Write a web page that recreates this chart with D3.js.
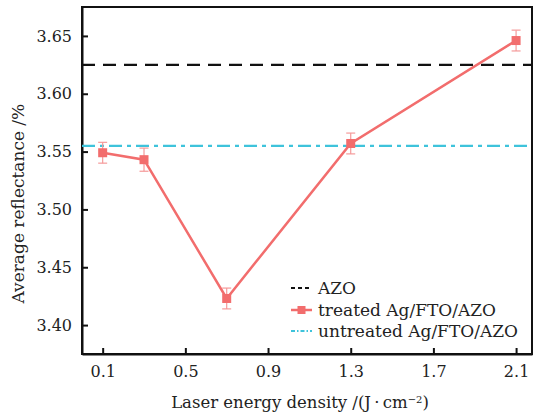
<!DOCTYPE html>
<html>
<head>
<meta charset="utf-8">
<script src="https://cdn.jsdelivr.net/npm/d3@7"></script>
<style>
body { margin: 0; background: #fff; }
svg text { font-family: "DejaVu Serif", serif; fill: #222; }
</style>
</head>
<body>
<div class="chart-wrapper"></div>
<script>
const energy = [0.1, 0.3, 0.7, 1.3, 2.1]
const reflectance = [3.549, 3.543, 3.423, 3.557, 3.646]
const errors = [0.009, 0.010, 0.009, 0.009, 0.009]
const azoLevel = 3.625
const untreatedLevel = 3.555
const xTicks = [0.1, 0.5, 0.9, 1.3, 1.7, 2.1]
const yTicks = [3.40, 3.45, 3.50, 3.55, 3.60, 3.65]
const legendLabels = ["AZO", "treated Ag/FTO/AZO", "untreated Ag/FTO/AZO"]

const width = 535, height = 413
const margin = {top: 7, right: 3, bottom: 59, left: 82}

const red = "#f26d6d", redLight = "#f59a9a", cyan = "#3ec3db"

let svg = d3.select(".chart-wrapper").append("svg")
  .attr("width", width)
  .attr("height", height)

let x = d3.scaleLinear().domain([0, 2.177]).range([margin.left, width - margin.right])
let y = d3.scaleLinear().domain([3.375, 3.675]).range([height - margin.bottom, margin.top])

// frame
svg.append("rect")
  .attr("x", margin.left).attr("y", margin.top)
  .attr("width", width - margin.right - margin.left)
  .attr("height", height - margin.bottom - margin.top)
  .attr("fill", "none").attr("stroke", "#111").attr("stroke-width", 2)

let xaxis = svg.append("g")
  .attr("transform", "translate(0," + (height - margin.bottom) + ")")
  .call(d3.axisBottom(x).tickValues(xTicks).tickFormat(d3.format(".1f"))
    .tickSizeInner(-6).tickSizeOuter(0).tickPadding(12))
xaxis.select(".domain").attr("stroke-width", 2).attr("stroke", "#111")
xaxis.selectAll(".tick line").attr("stroke-width", 2).attr("stroke", "#111")
xaxis.selectAll("text").attr("font-size", 16).style("font-family", "DejaVu Serif")

let yaxis = svg.append("g")
  .attr("transform", "translate(" + margin.left + ",0)")
  .call(d3.axisLeft(y).tickValues(yTicks).tickFormat(d3.format(".2f"))
    .tickSizeInner(-6).tickSizeOuter(0).tickPadding(10))
yaxis.select(".domain").attr("stroke-width", 2).attr("stroke", "#111")
yaxis.selectAll(".tick line").attr("stroke-width", 2).attr("stroke", "#111")
yaxis.selectAll("text").attr("font-size", 16).style("font-family", "DejaVu Serif")

// reference lines
svg.append("line")
  .attr("x1", x(0)).attr("x2", x(2.177))
  .attr("y1", y(azoLevel)).attr("y2", y(azoLevel))
  .attr("stroke", "#111").attr("stroke-width", 2.2).attr("stroke-dasharray", "13,8")

svg.append("line")
  .attr("x1", x(0)).attr("x2", x(2.177))
  .attr("y1", y(untreatedLevel)).attr("y2", y(untreatedLevel))
  .attr("stroke", cyan).attr("stroke-width", 2.2).attr("stroke-dasharray", "13,5,4,5")

const data = energy.map((e, i) => ({e: e, v: reflectance[i], err: errors[i]}))

// error bars
let eb = svg.append("g").selectAll("g").data(data).join("g")
eb.append("line")
  .attr("x1", d => x(d.e)).attr("x2", d => x(d.e))
  .attr("y1", d => y(d.v - d.err)).attr("y2", d => y(d.v + d.err))
  .attr("stroke", redLight).attr("stroke-width", 1.2)
eb.selectAll(".cap").data(d => [d.v - d.err, d.v + d.err].map(v => ({e: d.e, v: v})))
  .join("line")
  .attr("x1", d => x(d.e) - 4.5).attr("x2", d => x(d.e) + 4.5)
  .attr("y1", d => y(d.v)).attr("y2", d => y(d.v))
  .attr("stroke", redLight).attr("stroke-width", 1.2)

let valueline = d3.line().x(d => x(d.e)).y(d => y(d.v))

svg.append("path")
  .datum(data)
  .attr("d", valueline)
  .attr("fill", "none").attr("stroke", red).attr("stroke-width", 2.5)

svg.append("g").selectAll("rect").data(data).join("rect")
  .attr("x", d => x(d.e) - 4.5).attr("y", d => y(d.v) - 4.5)
  .attr("width", 9).attr("height", 9)
  .attr("fill", red)

// legend
let legend = svg.append("g").attr("transform", "translate(291,0)")
const rowY = [288, 310, 331]
legend.append("line").attr("x1", 0).attr("x2", 21).attr("y1", rowY[0]).attr("y2", rowY[0])
  .attr("stroke", "#111").attr("stroke-width", 2).attr("stroke-dasharray", "4,3")
legend.append("line").attr("x1", 0).attr("x2", 21).attr("y1", rowY[1]).attr("y2", rowY[1])
  .attr("stroke", red).attr("stroke-width", 2.5)
legend.append("rect").attr("x", 6.5).attr("y", rowY[1] - 4).attr("width", 8).attr("height", 8).attr("fill", red)
legend.append("line").attr("x1", 0).attr("x2", 21).attr("y1", rowY[2]).attr("y2", rowY[2])
  .attr("stroke", cyan).attr("stroke-width", 2).attr("stroke-dasharray", "4,2,1.5,2")
legend.selectAll("text").data(legendLabels).join("text")
  .attr("x", 27).attr("y", (d, i) => rowY[i])
  .attr("dy", "0.35em")
  .attr("font-size", 17)
  .text(d => d)

// axis titles
let xt = svg.append("text")
  .attr("x", 300).attr("y", 402).attr("dy", "0.35em")
  .attr("text-anchor", "middle").attr("font-size", 16.5)
xt.append("tspan").text("Laser energy density /(J\u2009\u00b7\u2009cm")
xt.append("tspan").attr("font-size", 10).attr("dy", "-0.5em").text("\u22122")
xt.append("tspan").attr("dy", "0.3em").text(")")

svg.append("text")
  .attr("transform", "translate(18," + y(3.505) + ") rotate(-90)")
  .attr("text-anchor", "middle").attr("dy", "0.35em").attr("font-size", 17)
  .text("Average reflectance /%")
</script>
</body>
</html>
